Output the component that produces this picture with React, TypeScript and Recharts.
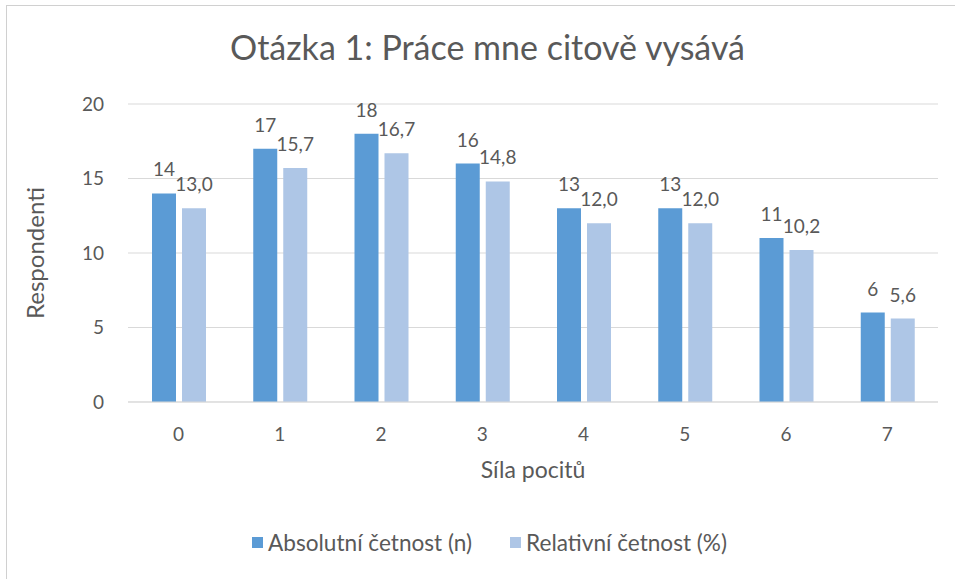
import { BarChart, Bar, XAxis, YAxis, CartesianGrid, LabelList, Label } from 'recharts'

const CATEGORIES = ['0', '1', '2', '3', '4', '5', '6', '7']
const ABSOLUTE = [14, 17, 18, 16, 13, 13, 11, 6]
const RELATIVE = [13.0, 15.7, 16.7, 14.8, 12.0, 12.0, 10.2, 5.6]
const Y_TICKS = [0, 5, 10, 15, 20]

const DARK = '#5B9BD5'
const LIGHT = '#AEC6E6'
const TEXT = '#595959'
const GRID = '#D9D9D9'
const FONT = 'Lato, "Open Sans", sans-serif'

const data = CATEGORIES.map((c, i) => ({ cat: c, abs: ABSOLUTE[i], rel: RELATIVE[i] }))

const fmtComma = (v: any) => Number(v).toFixed(1).replace('.', ',')

export default function App() {
  return (
    <div style={{ position: 'absolute', left: 0, top: 0, width: 955, height: 579, overflow: 'hidden', background: '#fff', fontFamily: FONT }}>
      {/* chart frame, only left/top edges are visible */}
      <div style={{ position: 'absolute', left: 6, top: 5, width: 1000, height: 1000, border: '1px solid #D0D0D0' }} />

      <div style={{ position: 'absolute', left: 0, top: 26, width: 975, textAlign: 'center', fontSize: 34, color: TEXT }}>
        Otázka 1: Práce mne citově vysává
      </div>

      <div style={{ position: 'absolute', left: 0, top: 0 }}>
        <BarChart
          width={955}
          height={579}
          data={data}
          margin={{ top: 104, right: 17, bottom: 97, left: 18 }}
          barSize={24}
          barGap={6}
        >
          <CartesianGrid vertical={false} stroke={GRID} strokeWidth={1} />
          <XAxis
            dataKey="cat"
            height={80}
            tickLine={false}
            axisLine={{ stroke: GRID }}
            tickSize={0}
            tickMargin={26}
            tick={{ fontSize: 19, fill: TEXT, fontFamily: FONT }}
          >
            <Label
              content={({ viewBox }: any) => (
                <text
                  x={viewBox.x + viewBox.width / 2}
                  y={478}
                  textAnchor="middle"
                  fontSize={23}
                  fill={TEXT}
                  fontFamily={FONT}
                >
                  Síla pocitů
                </text>
              )}
            />
          </XAxis>
          <YAxis
            width={110}
            domain={[0, 20]}
            ticks={Y_TICKS}
            axisLine={false}
            tickLine={false}
            tickSize={0}
            tickMargin={24}
            tick={{ fontSize: 19, fill: TEXT, fontFamily: FONT }}
          >
            <Label
              content={({ viewBox }: any) => {
                const cy = viewBox.y + viewBox.height / 2
                return (
                  <text
                    x={34}
                    y={cy}
                    transform={`rotate(-90 34 ${cy})`}
                    textAnchor="middle"
                    dominantBaseline="central"
                    fontSize={24}
                    fill={TEXT}
                    fontFamily={FONT}
                  >
                    Respondenti
                  </text>
                )
              }}
            />
          </YAxis>
          <Bar dataKey="abs" fill={DARK} isAnimationActive={false}>
            <LabelList dataKey="abs" position="top" offset={17} fill={TEXT} fontSize={19} fontFamily={FONT} />
          </Bar>
          <Bar dataKey="rel" fill={LIGHT} isAnimationActive={false}>
            <LabelList dataKey="rel" position="top" offset={17} fill={TEXT} fontSize={19} fontFamily={FONT} formatter={fmtComma} />
          </Bar>
        </BarChart>
      </div>

      {/* legend */}
      <div style={{ position: 'absolute', left: 252, top: 529, display: 'flex', alignItems: 'center', fontSize: 22.6, color: TEXT, whiteSpace: 'nowrap' }}>
        <span style={{ width: 11, height: 11, background: DARK, display: 'inline-block', marginRight: 5 }} />
        <span>Absolutní četnost (n)</span>
        <span style={{ width: 11, height: 11, background: LIGHT, display: 'inline-block', marginLeft: 38, marginRight: 5 }} />
        <span>Relativní četnost (%)</span>
      </div>
    </div>
  )
}
